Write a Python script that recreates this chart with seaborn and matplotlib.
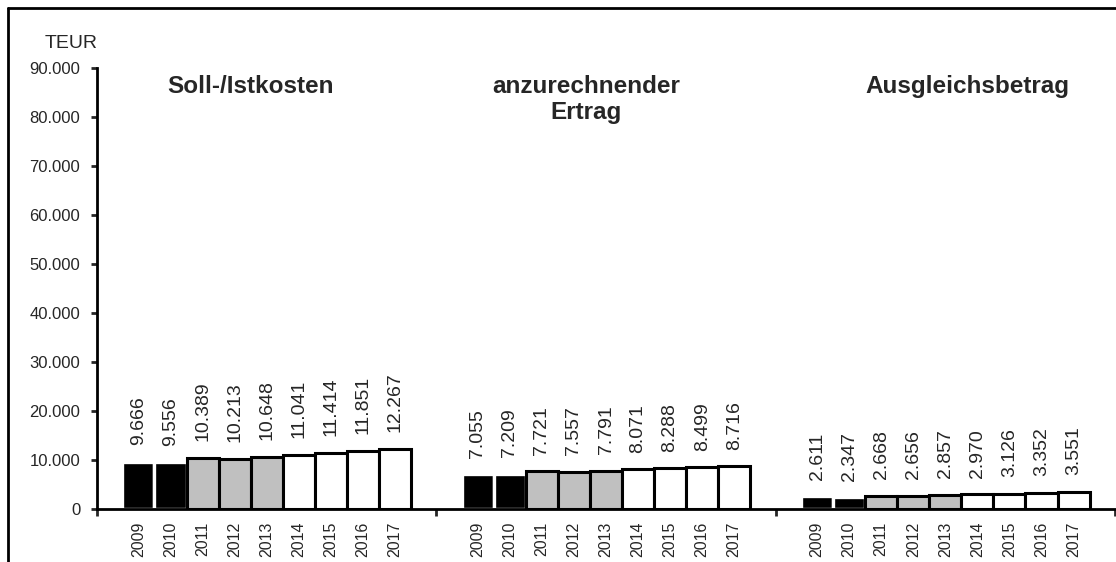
import matplotlib
matplotlib.use("Agg")
import matplotlib.pyplot as plt
from matplotlib.lines import Line2D
from matplotlib.ticker import FuncFormatter
import numpy as np
import pandas as pd
import seaborn as sns

# Series per category (TEUR)
years = ["2009", "2010", "2011", "2012", "2013", "2014", "2015", "2016", "2017"]
groups = ["Soll-/Istkosten", "anzurechnender\nErtrag", "Ausgleichsbetrag"]
soll_ist = [9666, 9556, 10389, 10213, 10648, 11041, 11414, 11851, 12267]
ertrag = [7055, 7209, 7721, 7557, 7791, 8071, 8288, 8499, 8716]
ausgleich = [2611, 2347, 2668, 2656, 2857, 2970, 3126, 3352, 3551]
y_ticks = [0, 10000, 20000, 30000, 40000, 50000, 60000, 70000, 80000, 90000]

fill = {y: "black" for y in years[:2]}
fill.update({y: "#C0C0C0" for y in years[2:5]})
fill.update({y: "white" for y in years[5:]})

rows = []
for g, vals in zip(groups, [soll_ist, ertrag, ausgleich]):
    for y, v in zip(years, vals):
        rows.append({"Gruppe": g, "Jahr": y, "Wert": v})
df = pd.DataFrame(rows)

sns.set_style("white")
plt.rcParams["font.family"] = ["Liberation Sans", "DejaVu Sans"]

fig = plt.figure(figsize=(11.16, 5.62), dpi=100)
ax = fig.add_axes([97 / 1116, 1 - 509 / 562, (1115 - 97) / 1116, (509 - 68) / 562])

sns.barplot(data=df, x="Gruppe", y="Wert", hue="Jahr", hue_order=years,
            order=groups, palette=fill, saturation=1, width=0.85,
            edgecolor="black", linewidth=2.2, legend=False, ax=ax)

def de(v):
    return f"{v:,}".replace(",", ".")

centers, labels = [], []
for cont, yr in zip(ax.containers, years):
    for p in cont.patches:
        centers.append(p.get_x() + p.get_width() / 2)
        labels.append(yr)
        if fill[yr] == "black":
            p.set_edgecolor("white")
            p.set_linewidth(2.4)
    ax.bar_label(cont, labels=[de(int(round(p.get_height()))) for p in cont.patches],
                 rotation=90, padding=12, fontsize=14)

ax.set_xlim(-0.5, 2.5)
ax.set_ylim(0, 90000)
ax.set_yticks(y_ticks)
ax.yaxis.set_major_formatter(FuncFormatter(lambda v, _: de(int(v))))
ax.set_xticks(centers, labels, rotation=90, fontsize=11.5)
ax.set_xticks([-0.5, 0.5, 1.5, 2.5], minor=True)
ax.tick_params(axis="x", which="major", length=0, pad=9)
ax.tick_params(axis="x", which="minor", length=5, width=2, direction="out", bottom=True)
ax.tick_params(axis="y", length=4, width=2, direction="out", labelsize=12, pad=8, left=True)
ax.set_xlabel("")
ax.set_ylabel("")
sns.despine(ax=ax)
for s in ["left", "bottom"]:
    ax.spines[s].set_linewidth(2)
    ax.spines[s].set_color("black")

# category headings
title_x = [-0.049, 0.941, 2.066]
for tx, g in zip(title_x, groups):
    ax.text(tx, 88500, g, ha="center", va="top", fontsize=17.5,
            fontweight="bold", linespacing=1.15)

fig.text(71 / 1116, 1 - 44 / 562, "TEUR", ha="center", va="center", fontsize=14)

# outer frame
fig.add_artist(Line2D([8 / 1116, 8 / 1116], [1 - 8 / 562, 0], color="black",
                      lw=2, transform=fig.transFigure))
fig.add_artist(Line2D([8 / 1116, 1], [1 - 8 / 562, 1 - 8 / 562], color="black",
                      lw=2, transform=fig.transFigure))

fig.savefig("out.png", dpi=100)
